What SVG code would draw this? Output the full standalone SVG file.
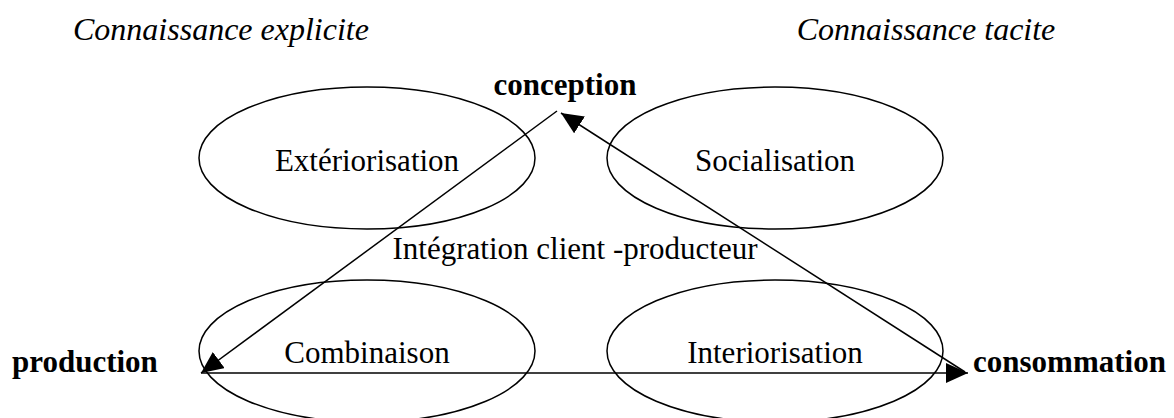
<svg xmlns="http://www.w3.org/2000/svg" width="1174" height="418" viewBox="0 0 1174 418">
<defs>
<style>
text{font-family:"Liberation Serif","Times New Roman",serif;font-size:31px;fill:#000}
.it{font-style:italic;font-size:32px}
.b{font-weight:bold}
.m{text-anchor:middle}
ellipse{fill:none;stroke:#000;stroke-width:1.5}
.c line{stroke:#000;stroke-width:1.5;marker-end:url(#ah)}
</style>
<marker id="ah" markerUnits="userSpaceOnUse" markerWidth="24" markerHeight="22" refX="22" refY="10" orient="auto">
<path d="M0,0 L22,10 L0,20 z" fill="#000"/>
</marker>
</defs>
<rect width="1174" height="418" fill="#fff"/>
<text class="it" x="73" y="40">Connaissance explicite</text>
<text class="it m" x="926" y="40">Connaissance tacite</text>
<g id="conception"><text class="b m" x="565" y="95">conception</text></g>
<g id="production"><text class="b" x="12" y="372">production</text></g>
<g id="consommation"><text class="b" x="973" y="372">consommation</text></g>
<g id="exteriorisation"><ellipse cx="367" cy="158" rx="168" ry="71"/><text class="m" x="367" y="171">Extériorisation</text></g>
<g id="socialisation"><ellipse cx="775" cy="158" rx="168" ry="71"/><text class="m" x="775" y="171">Socialisation</text></g>
<g id="combinaison"><ellipse cx="367" cy="351" rx="168" ry="71"/><text class="m" x="367" y="363">Combinaison</text></g>
<g id="interiorisation"><ellipse cx="775" cy="351" rx="168" ry="71"/><text class="m" x="775" y="363">Interiorisation</text></g>
<g id="integration"><text class="m" x="575" y="259">Intégration client -producteur</text></g>
<g class="c" id="connectors">
<line x1="557" y1="111" x2="201" y2="373"/>
<line x1="965" y1="372" x2="561" y2="113"/>
<line x1="201" y1="373" x2="968" y2="373"/>
</g>
</svg>
